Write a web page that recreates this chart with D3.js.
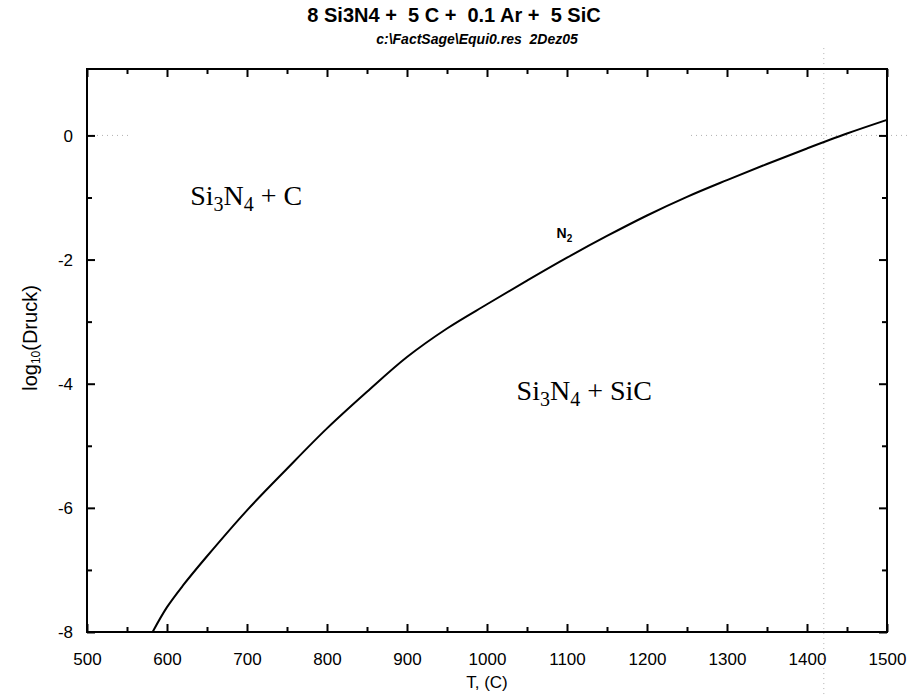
<!DOCTYPE html>
<html>
<head>
<meta charset="utf-8">
<script src="https://cdn.jsdelivr.net/npm/d3@7"></script>
<style>
  html, body { margin: 0; padding: 0; background: #fff; }
  svg { display: block; }
</style>
</head>
<body>
<svg id="chart" width="909" height="695"></svg>
<script>
// ---- data ----
const temperatures = [582, 600, 620, 650, 700, 750, 800, 850, 900, 950, 1000, 1050, 1100, 1150, 1200, 1250, 1300, 1350, 1400, 1450, 1500];
const logPressure  = [-8.0, -7.6, -7.25, -6.78, -6.04, -5.37, -4.72, -4.13, -3.57, -3.11, -2.72, -2.34, -1.97, -1.62, -1.29, -0.99, -0.72, -0.46, -0.21, 0.03, 0.25];
const xTickValues = [500, 600, 700, 800, 900, 1000, 1100, 1200, 1300, 1400, 1500];
const xMinorTicks = [550, 650, 750, 850, 950, 1050, 1150, 1250, 1350, 1450];
const yTickValues = [0, -2, -4, -6, -8];
const yMinorTicks = [-1, -3, -5, -7];
const titleText = "8 Si3N4 +  5 C +  0.1 Ar +  5 SiC";
const subtitleText = "c:\\FactSage\\Equi0.res  2Dez05";
const curveLabel = "N2";
const regionLabels = [
  { parts: [["Si", 0], ["3", 1], ["N", 0], ["4", 1], [" + C", 0]], T: 629, v: -1.12 },
  { parts: [["Si", 0], ["3", 1], ["N", 0], ["4", 1], [" + SiC", 0]], T: 1037, v: -4.26 }
];
// faint dotted scan guide lines (data units)
const hGuide = [{ v: 0, from: 500, to: 556 }, { v: 0, from: 1255, to: 1527 }];
const vGuide = [{ T: 1421, from: -9.0, to: 1.45 }];

// ---- layout ----
const svg = d3.select("#chart");
const margin = { left: 87, right: 887, top: 69, bottom: 632 };
const x = d3.scaleLinear().domain([500, 1500]).range([margin.left, margin.right]);
const y = d3.scaleLinear().domain([-8, 1.07]).range([margin.bottom, margin.top]);
const fmt = d => String(d); // hyphen-minus as in the reference

// guide lines
const guides = svg.append("g").attr("stroke", "#b0b0b0").attr("stroke-width", 1)
  .attr("stroke-dasharray", "1,4").attr("fill", "none");
hGuide.forEach(g => guides.append("line")
  .attr("x1", x(g.from)).attr("x2", x(g.to)).attr("y1", y(g.v)).attr("y2", y(g.v)));
vGuide.forEach(g => guides.append("line")
  .attr("x1", x(g.T)).attr("x2", x(g.T)).attr("y1", y(g.from)).attr("y2", y(g.to)));

// frame
svg.append("rect")
  .attr("x", margin.left).attr("y", margin.top)
  .attr("width", margin.right - margin.left).attr("height", margin.bottom - margin.top)
  .attr("fill", "none").attr("stroke", "#000").attr("stroke-width", 2);

// axes (ticks inward)
const fontSans = "'Liberation Sans', Arial, sans-serif";
const xAxis = svg.append("g").attr("transform", `translate(0,${margin.bottom})`)
  .call(d3.axisBottom(x).tickValues(xTickValues).tickSize(-8).tickPadding(21).tickFormat(fmt));
const xAxisMinor = svg.append("g").attr("transform", `translate(0,${margin.bottom})`)
  .call(d3.axisBottom(x).tickValues(xMinorTicks).tickSize(-5).tickFormat(""));
const xTop = svg.append("g").attr("transform", `translate(0,${margin.top})`)
  .call(d3.axisTop(x).tickValues(xTickValues).tickSize(-8).tickFormat(""));
const xTopMinor = svg.append("g").attr("transform", `translate(0,${margin.top})`)
  .call(d3.axisTop(x).tickValues(xMinorTicks).tickSize(-5).tickFormat(""));
const yAxis = svg.append("g").attr("transform", `translate(${margin.left},0)`)
  .call(d3.axisLeft(y).tickValues(yTickValues).tickSize(-8).tickPadding(14).tickFormat(fmt));
const yAxisMinor = svg.append("g").attr("transform", `translate(${margin.left},0)`)
  .call(d3.axisLeft(y).tickValues(yMinorTicks).tickSize(-5).tickFormat(""));
const yRight = svg.append("g").attr("transform", `translate(${margin.right},0)`)
  .call(d3.axisRight(y).tickValues(yTickValues).tickSize(-8).tickFormat(""));
const yRightMinor = svg.append("g").attr("transform", `translate(${margin.right},0)`)
  .call(d3.axisRight(y).tickValues(yMinorTicks).tickSize(-5).tickFormat(""));

[xAxis, xAxisMinor, xTop, xTopMinor, yAxis, yAxisMinor, yRight, yRightMinor].forEach(g => {
  g.select(".domain").remove();
  g.selectAll(".tick line").attr("stroke", "#000").attr("stroke-width", 2);
  g.selectAll("text").attr("font-family", fontSans).attr("font-size", 17).attr("fill", "#000");
});
yAxis.selectAll("text").attr("dy", "0.35em");

// curve
const pts = temperatures.map((t, i) => [t, logPressure[i]]);
svg.append("path")
  .datum(pts)
  .attr("fill", "none").attr("stroke", "#000").attr("stroke-width", 2)
  .attr("d", d3.line().x(d => x(d[0])).y(d => y(d[1])).curve(d3.curveCatmullRom.alpha(0.5)));

// curve label N2
const n2 = svg.append("text").attr("x", x(1087)).attr("y", y(-1.65))
  .attr("font-family", fontSans).attr("font-weight", "bold")
  .attr("font-size", 14).attr("fill", "#000");
n2.append("tspan").text(curveLabel.slice(0, 1));
n2.append("tspan").attr("font-size", 10).attr("dy", 4).text(curveLabel.slice(1));

// region labels (Times, with subscripts)
regionLabels.forEach(r => {
  const t = svg.append("text").attr("x", x(r.T)).attr("y", y(r.v))
    .attr("font-family", "'Liberation Serif', 'Times New Roman', serif")
    .attr("font-size", 28).attr("fill", "#000");
  let sub = 0;
  r.parts.forEach(([s, isSub]) => {
    const ts = t.append("tspan").text(s);
    if (isSub && !sub) { ts.attr("font-size", 20).attr("dy", 6); sub = 1; }
    else if (!isSub && sub) { ts.attr("dy", -6); sub = 0; }
    else if (isSub) { ts.attr("font-size", 20); }
  });
});

// title
svg.append("text").attr("x", 454).attr("y", 22).attr("text-anchor", "middle")
  .attr("font-family", fontSans).attr("font-weight", "bold")
  .attr("font-size", 20).attr("fill", "#000")
  .style("white-space", "pre").text(titleText);
svg.append("text").attr("x", 477).attr("y", 44).attr("text-anchor", "middle")
  .attr("font-family", fontSans).attr("font-weight", "bold")
  .attr("font-style", "italic").attr("font-size", 14).attr("fill", "#000")
  .style("white-space", "pre").text(subtitleText);

// axis titles
svg.append("text").attr("x", (margin.left + margin.right) / 2).attr("y", 688)
  .attr("text-anchor", "middle").attr("font-family", fontSans).attr("font-size", 17)
  .attr("fill", "#000").text("T, (C)");
const yl = svg.append("text").attr("transform", `translate(37,338) rotate(-90)`)
  .attr("text-anchor", "middle").attr("font-family", fontSans)
  .attr("font-size", 20).attr("fill", "#000");
yl.append("tspan").text("log");
yl.append("tspan").attr("font-size", 12).attr("dy", 3).text("10");
yl.append("tspan").attr("dy", -3).text("(Druck)");
</script>
</body>
</html>
